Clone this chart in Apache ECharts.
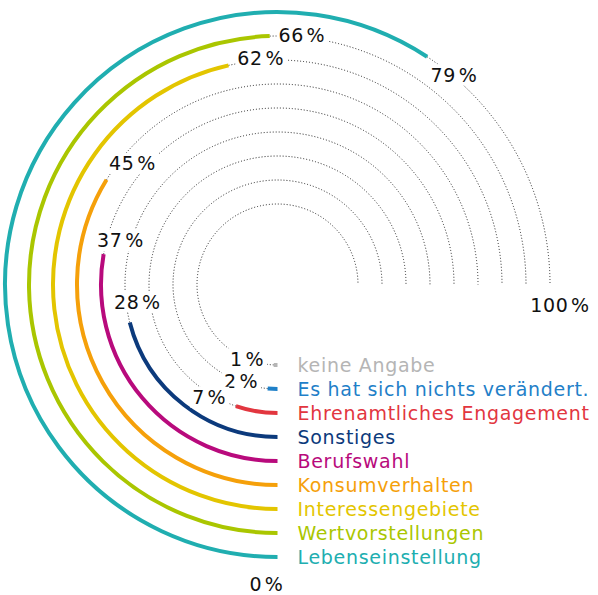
<!DOCTYPE html>
<html><head><meta charset="utf-8">
<script src="https://cdn.jsdelivr.net/npm/echarts@6/dist/echarts.min.js"></script>
<style>html,body{margin:0;padding:0;background:#fff}#c{width:598px;height:595px}#c svg text{letter-spacing:0.7px}</style>
</head><body><div id="c"></div>
<script>
// inner ring -> outer ring
const categories = ['keine Angabe','Es hat sich nichts verändert.','Ehrenamtliches Engagement','Sonstiges','Berufswahl','Konsumverhalten','Interessengebiete','Wertvorstellungen','Lebenseinstellung'];
const values = [1, 2, 7, 28, 37, 45, 62, 66, 79];
const colors = ['#b5b5b5','#1f80c8','#e2363f','#0c3a7c','#b80a7c','#f5a00a','#e3c500','#aac600','#20aeb0'];
const scaleTicks = [0, 100];
const scaleLabels = ['0%', '100%'];

const FONT = '"DejaVu Sans"';
const FS = 19, LS = 0.7;
const mctx = document.createElement('canvas').getContext('2d');
function textW(t) { mctx.font = FS + 'px ' + FONT; return mctx.measureText(t).width + LS * t.length; }
const pct = v => v + '\u200a%';

const chart = echarts.init(document.getElementById('c'), null, {renderer: 'svg'});

function angOf(api, cs, idx, v) {
  const p = api.coord([idx, v]);
  let a = Math.atan2(p[1] - cs.cy, p[0] - cs.cx);
  while (a < Math.PI / 2 - 1e-6) a += 2 * Math.PI;
  return a;
}

chart.setOption({
  animation: false,
  polar: {center: [277.5, 284.5], radius: [68.5, 284.5]},
  angleAxis: {type: 'value', min: 0, max: 400 / 3, startAngle: 270, clockwise: true, show: false},
  radiusAxis: {type: 'category', data: categories, show: false},
  series: [{
    type: 'custom',
    coordinateSystem: 'polar',
    data: values.map((v, i) => [i, v]),
    renderItem: function (params, api) {
      const cs = params.coordSys;
      const idx = api.value(0), val = api.value(1);
      const p0 = api.coord([idx, 0]);
      const r = Math.hypot(p0[0] - cs.cx, p0[1] - cs.cy);
      const a0 = angOf(api, cs, idx, 0);
      const a1 = angOf(api, cs, idx, val);
      const aEnd = angOf(api, cs, idx, 100);
      const txt = pct(val);
      const w = textW(txt), h = 15;
      const ex = cs.cx + r * Math.cos(a1), ey = cs.cy + r * Math.sin(a1);
      const tx = -Math.sin(a1), ty = Math.cos(a1);
      const nx = -Math.cos(a1), ny = -Math.sin(a1);
      const D = 9 + Math.abs(tx) * w / 2 + Math.abs(ty) * h / 2;
      const S = ty < -0.6 ? 14 : (val < 5 ? 5 : 0);
      const lx = ex + tx * D + nx * S, ly = ey + ty * D + ny * S + (ty < -0.9 ? 4 : 0);
      const color = colors[idx];
      return {
        type: 'group',
        children: [
          {type: 'arc', shape: {cx: cs.cx, cy: cs.cy, r: r, startAngle: a1, endAngle: aEnd, clockwise: true},
           style: {stroke: '#222', lineWidth: 1, lineDash: [1, 2], fill: null}},
          {type: 'arc', shape: {cx: cs.cx, cy: cs.cy, r: r, startAngle: a0, endAngle: a1, clockwise: true},
           style: {stroke: color, lineWidth: 4, fill: null, lineCap: 'butt'}},
          {type: 'text', z2: 10, x: lx, y: ly,
           style: {text: txt, fill: '#111', font: FS + 'px ' + FONT, align: 'center', verticalAlign: 'middle',
                   backgroundColor: '#fff', padding: [1, 4, 1, 3]}},
          {type: 'text', x: p0[0] + 20, y: p0[1],
           style: {text: categories[idx], fill: color, font: FS + 'px ' + FONT, align: 'left', verticalAlign: 'middle'}}
        ]
      };
    }
  }, {
    type: 'custom',
    coordinateSystem: 'polar',
    data: scaleTicks.map((v) => [categories.length - 1, v]),
    renderItem: function (params, api) {
      const p = api.coord([api.value(0), api.value(1)]);
      const i = params.dataIndex;
      const dx = i === 0 ? -11 : 10, dy = i === 0 ? 27 : 20;
      return {type: 'text', x: p[0] + dx, y: p[1] + dy,
        style: {text: scaleLabels[i].replace('%', '\u200a%'), fill: '#111', font: FS + 'px ' + FONT, align: 'center', verticalAlign: 'middle'}};
    }
  }]
});
</script></body></html>
